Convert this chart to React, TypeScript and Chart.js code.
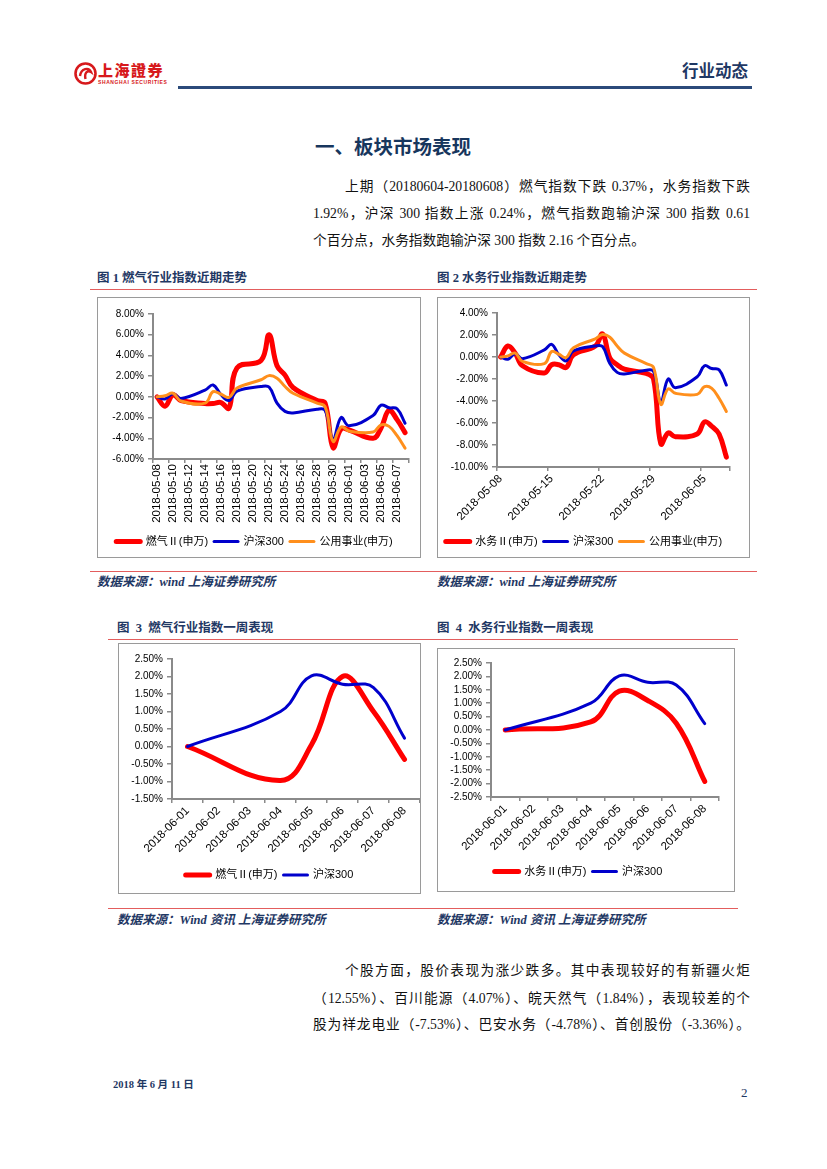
import React, { useEffect, useRef } from 'react';
import { Chart, registerables } from 'chart.js';

Chart.register(...registerables);

// ---------- data ----------
const calendarDays = [
  '2018-05-08', '2018-05-09', '2018-05-10', '2018-05-11', '2018-05-12', '2018-05-13', '2018-05-14',
  '2018-05-15', '2018-05-16', '2018-05-17', '2018-05-18', '2018-05-19', '2018-05-20', '2018-05-21',
  '2018-05-22', '2018-05-23', '2018-05-24', '2018-05-25', '2018-05-26', '2018-05-27', '2018-05-28',
  '2018-05-29', '2018-05-30', '2018-05-31', '2018-06-01', '2018-06-02', '2018-06-03', '2018-06-04',
  '2018-06-05', '2018-06-06', '2018-06-07', '2018-06-08',
];
const tradingDays = [
  '2018-05-08', '2018-05-09', '2018-05-10', '2018-05-11', '2018-05-14', '2018-05-15', '2018-05-16',
  '2018-05-17', '2018-05-18', '2018-05-21', '2018-05-22', '2018-05-23', '2018-05-24', '2018-05-25',
  '2018-05-28', '2018-05-29', '2018-05-30', '2018-05-31', '2018-06-01', '2018-06-04', '2018-06-05',
  '2018-06-06', '2018-06-07', '2018-06-08',
];
const gasIndex = [0, -0.9, 0.2, -0.35, -0.65, -0.65, -0.55, -1.1, 2.8, 3.5, 6.0, 3.0, 2.1, 0.9, -0.35, -0.6, -4.9, -3.1, -3.2, -4.0, -3.0, -1.3, -2.2, -3.45];
const waterIndex = [0, 1.0, 0.35, -0.8, -1.45, -0.7, -0.7, -0.95, 0.2, 1.0, 2.1, -0.1, -0.7, -1.1, -1.5, -2.0, -7.9, -6.9, -7.25, -7.0, -5.9, -6.3, -7.0, -9.1];
const hs300Index = [0, -0.2, 0.3, -0.15, 0.65, 1.15, 0.2, -0.35, 0.55, 1.0, 0.95, -0.6, -1.4, -1.55, -1.2, -1.3, -4.1, -2.0, -2.8, -1.8, -0.8, -1.05, -1.15, -2.55];
const utilityIndex = [0, 0.1, 0.35, -0.4, -0.6, 0.5, 0.25, -0.05, 0.85, 1.65, 2.05, 1.8, 1.0, 0.35, -0.6, -0.95, -4.3, -2.9, -3.3, -3.4, -2.7, -2.85, -3.75, -4.95];

const weekCategories = ['2018-06-01', '2018-06-02', '2018-06-03', '2018-06-04', '2018-06-05', '2018-06-06', '2018-06-07', '2018-06-08'];
const weekTradingDays = ['2018-06-01', '2018-06-04', '2018-06-05', '2018-06-06', '2018-06-07', '2018-06-08'];
const gasWeek = [0, -0.97, 0.05, 2.0, 1.0, -0.37];
const waterWeek = [0, 0.3, 1.45, 1.1, 0.25, -1.92];
const hs300Week = [0, 1.0, 2.02, 1.78, 1.68, 0.24];

// ---------- style ----------
const CHART_FONT = "'Liberation Sans', 'Noto Sans CJK SC', Arial, sans-serif";
const SERIF = "'Liberation Serif', 'Noto Sans CJK SC', serif";
const SANS = "'Noto Sans CJK SC', 'Liberation Sans', sans-serif";
const AXIS_COLOR = '#8a8a8a';
const RED = '#ff0000';
const BLUE = '#0000cc';
const ORANGE = '#ff8f1c';
const NAVY = '#1f3864';
const RULE_RED = '#e35d5d';

Chart.defaults.font.family = CHART_FONT;

type Series = { label: string; values: number[]; color: string; width: number };

interface ChartProps {
  left: number; top: number; width: number; height: number;
  categories: string[]; dates: string[]; series: Series[];
  yMin: number; yMax: number; yStep: number;
  every: number; rotation: number;
  pad: { left: number; right: number; top: number; bottom: number };
  yWidth: number; xHeight: number;
}

function LineChartBox(p: ChartProps) {
  const ref = useRef<HTMLCanvasElement | null>(null);
  const cw = p.width - 2;
  const ch = p.height - 2;
  useEffect(() => {
    const canvas = ref.current;
    if (!canvas) return;
    const n = p.series.length;
    const chart = new Chart(canvas, {
      type: 'line',
      data: {
        labels: p.categories,
        datasets: p.series.map((s, i) => ({
          label: s.label,
          data: p.dates.map((d, j) => ({ x: d, y: s.values[j] })),
          borderColor: s.color,
          backgroundColor: s.color,
          borderWidth: s.width,
          pointRadius: 0,
          pointHoverRadius: 0,
          tension: 0.4,
          borderCapStyle: 'round',
          borderJoinStyle: 'round',
          fill: false,
          order: n - i,
        })) as any,
      },
      options: {
        responsive: false,
        animation: false,
        devicePixelRatio: 1,
        events: [],
        layout: { padding: p.pad },
        plugins: {
          legend: {
            position: 'bottom',
            labels: {
              usePointStyle: true,
              pointStyle: 'line',
              pointStyleWidth: 24,
              padding: 6,
              color: '#000',
              font: { family: CHART_FONT, size: 11 },
              generateLabels: (c: any) =>
                c.data.datasets.map((ds: any, i: number) => ({
                  text: ds.label,
                  fillStyle: ds.borderColor,
                  strokeStyle: ds.borderColor,
                  lineWidth: ds.borderWidth,
                  pointStyle: 'line',
                  lineCap: 'round',
                  hidden: false,
                  datasetIndex: i,
                  fontColor: '#000',
                })),
            },
          },
          tooltip: { enabled: false },
        },
        scales: {
          x: {
            type: 'category',
            offset: true,
            afterFit: (s: any) => { s.height = p.xHeight; },
            grid: {
              offset: true,
              drawOnChartArea: false,
              drawTicks: true,
              tickLength: 4,
              lineWidth: 1.5,
              color: (c: any) => (c.type === 'scale' || c.index % p.every === 0 ? AXIS_COLOR : 'rgba(0,0,0,0)'),
            },
            border: { display: true, color: AXIS_COLOR, width: 2 },
            ticks: {
              autoSkip: false,
              minRotation: p.rotation,
              maxRotation: p.rotation,
              padding: 1,
              color: '#000',
              font: { family: CHART_FONT, size: 11.5 },
              callback: (_v: any, i: number) => (i % p.every === 0 ? p.categories[i] : ''),
            },
          },
          y: {
            min: p.yMin,
            max: p.yMax,
            afterFit: (s: any) => { s.width = p.yWidth; },
            grid: { drawOnChartArea: false, drawTicks: true, tickLength: 5, lineWidth: 1.5, color: AXIS_COLOR },
            border: { display: true, color: AXIS_COLOR, width: 2 },
            ticks: {
              stepSize: p.yStep,
              autoSkip: false,
              padding: 4,
              color: '#000',
              font: { family: CHART_FONT, size: 10 },
              callback: (v: any) => Number(v).toFixed(2) + '%',
            },
          },
        },
      } as any,
    });
    return () => chart.destroy();
  }, []);
  return (
    <div
      style={{
        position: 'absolute', left: p.left, top: p.top, width: p.width, height: p.height,
        border: '1px solid #9a9a9a', boxSizing: 'border-box', background: '#fff',
      }}
    >
      <canvas ref={ref} width={cw} height={ch} style={{ display: 'block', width: cw, height: ch }} />
    </div>
  );
}

function T(props: {
  x: number; y: number; size: number; children: React.ReactNode; bold?: boolean; italic?: boolean;
  color?: string; font?: string; width?: number; justify?: boolean;
}) {
  const lh = Math.round(props.size * 1.5);
  return (
    <div
      style={{
        position: 'absolute', left: props.x, top: props.y - lh / 2, width: props.width,
        lineHeight: lh + 'px', fontSize: props.size, fontFamily: props.font || SERIF,
        fontWeight: props.bold ? 700 : 400, fontStyle: props.italic ? 'italic' : 'normal',
        color: props.color || '#111', whiteSpace: 'nowrap',
        textAlign: props.justify ? 'justify' : 'left', textAlignLast: props.justify ? 'justify' : 'auto',
      } as React.CSSProperties}
    >
      {props.children}
    </div>
  );
}

function Rule(props: { x: number; y: number; w: number; h?: number; color: string }) {
  return (
    <div style={{ position: 'absolute', left: props.x, top: props.y, width: props.w, height: props.h || 1, background: props.color }} />
  );
}

export default function App() {
  return (
    <div style={{ position: 'absolute', left: 0, top: 0, width: 827, height: 1169, background: '#fff', overflow: 'hidden' }}>
      {/* logo */}
      <svg style={{ position: 'absolute', left: 73, top: 61 }} width={25} height={25}>
        <circle cx={12.5} cy={12.5} r={10} fill="none" stroke="#d7191c" strokeWidth={2.6} />
        <path d="M7 15 C8 7, 16 6, 18 11 C15 9, 11 11, 12.5 18" stroke="#d7191c" strokeWidth={2.4} fill="none" />
      </svg>
      <div style={{ position: 'absolute', left: 98, top: 61, fontFamily: "'Noto Sans CJK TC', sans-serif", fontWeight: 900, fontSize: 15, letterSpacing: 1.5, color: '#d7191c', lineHeight: '18px', whiteSpace: 'nowrap' }}>上海證券</div>
      <div style={{ position: 'absolute', left: 98, top: 79, fontFamily: CHART_FONT, fontWeight: 700, fontSize: 5, color: '#d7191c', lineHeight: '6px', letterSpacing: 0.6, whiteSpace: 'nowrap' }}>SHANGHAI SECURITIES</div>

      <T x={682} y={70} size={16.5} bold color={NAVY} font={SANS}>行业动态</T>
      <Rule x={178} y={86} w={574} h={3} color="#2b4a7a" />

      <T x={315} y={145} size={19.5} bold color="#17365d" font={SANS}>一、板块市场表现</T>

      <T x={345} y={186} size={13.7} width={405} justify>上期（20180604-20180608）燃气指数下跌 0.37%，水务指数下跌</T>
      <T x={313} y={213} size={13.7} width={437} justify>1.92%，沪深 300 指数上涨 0.24%，燃气指数跑输沪深 300 指数 0.61</T>
      <T x={313} y={240} size={13.7}>个百分点，水务指数跑输沪深 300 指数 2.16 个百分点。</T>

      <T x={97} y={278} size={12.5} bold color={NAVY}>图 1 燃气行业指数近期走势</T>
      <T x={437} y={278} size={12.5} bold color={NAVY}>图 2 水务行业指数近期走势</T>
      <Rule x={90} y={289} w={667} color={RULE_RED} />

      <LineChartBox
        left={97} top={297} width={324} height={261}
        categories={calendarDays} dates={tradingDays}
        series={[
          { label: '燃气Ⅱ(申万)', values: gasIndex, color: RED, width: 5 },
          { label: '沪深300', values: hs300Index, color: BLUE, width: 3 },
          { label: '公用事业(申万)', values: utilityIndex, color: ORANGE, width: 3 },
        ]}
        yMin={-6} yMax={8} yStep={2} every={2} rotation={90}
        pad={{ left: 0, right: 9, top: 16, bottom: 0 }} yWidth={55} xHeight={71}
      />
      <LineChartBox
        left={437} top={297} width={313} height={261}
        categories={calendarDays} dates={tradingDays}
        series={[
          { label: '水务Ⅱ(申万)', values: waterIndex, color: RED, width: 5 },
          { label: '沪深300', values: hs300Index, color: BLUE, width: 3 },
          { label: '公用事业(申万)', values: utilityIndex, color: ORANGE, width: 3 },
        ]}
        yMin={-10} yMax={4} yStep={2} every={7} rotation={45}
        pad={{ left: 0, right: 19, top: 15, bottom: 0 }} yWidth={59} xHeight={63}
      />

      <Rule x={90} y={571} w={667} color={RULE_RED} />
      <T x={97} y={582} size={12.5} bold italic color={NAVY}>数据来源：wind 上海证券研究所</T>
      <T x={437} y={582} size={12.5} bold italic color={NAVY}>数据来源：wind 上海证券研究所</T>

      <T x={117} y={628} size={12.5} bold color={NAVY}>图&nbsp;&nbsp;3&nbsp;&nbsp;燃气行业指数一周表现</T>
      <T x={437} y={628} size={12.5} bold color={NAVY}>图&nbsp;&nbsp;4&nbsp;&nbsp;水务行业指数一周表现</T>
      <Rule x={108} y={639} w={630} color={RULE_RED} />

      <LineChartBox
        left={118} top={643} width={303} height={251}
        categories={weekCategories} dates={weekTradingDays}
        series={[
          { label: '燃气Ⅱ(申万)', values: gasWeek, color: RED, width: 5 },
          { label: '沪深300', values: hs300Week, color: BLUE, width: 3 },
        ]}
        yMin={-1.5} yMax={2.5} yStep={0.5} every={1} rotation={45}
        pad={{ left: 0, right: 0, top: 15, bottom: 2.5 }} yWidth={53} xHeight={64.5}
      />
      <LineChartBox
        left={437} top={648} width={298} height={244}
        categories={weekCategories} dates={weekTradingDays}
        series={[
          { label: '水务Ⅱ(申万)', values: waterWeek, color: RED, width: 5 },
          { label: '沪深300', values: hs300Week, color: BLUE, width: 3 },
        ]}
        yMin={-2.5} yMax={2.5} yStep={0.5} every={1} rotation={45}
        pad={{ left: 0, right: 15, top: 14, bottom: 4 }} yWidth={53} xHeight={63}
      />

      <Rule x={108} y={908} w={630} color={RULE_RED} />
      <T x={117} y={920} size={12.5} bold italic color={NAVY}>数据来源：Wind 资讯 上海证券研究所</T>
      <T x={437} y={920} size={12.5} bold italic color={NAVY}>数据来源：Wind 资讯 上海证券研究所</T>

      <T x={345} y={970} size={13.7} width={405} justify>个股方面，股价表现为涨少跌多。其中表现较好的有新疆火炬</T>
      <T x={313} y={998} size={13.7} width={437} justify>（12.55%）、百川能源（4.07%）、皖天然气（1.84%），表现较差的个</T>
      <T x={313} y={1024} size={13.7} width={437} justify>股为祥龙电业（-7.53%）、巴安水务（-4.78%）、首创股份（-3.36%）。</T>

      <T x={113} y={1085} size={10.5} bold color={NAVY}>2018 年 6 月 11 日</T>
      <T x={741} y={1093} size={13} color="#1f3864">2</T>
    </div>
  );
}
